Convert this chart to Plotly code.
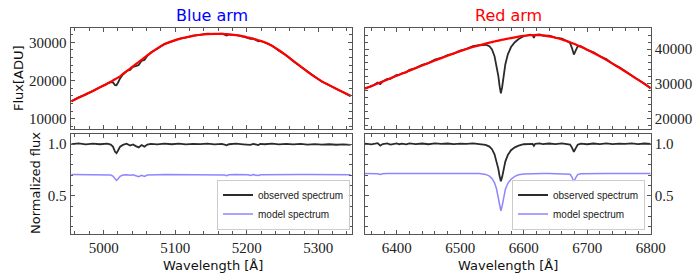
import plotly.graph_objects as go

# ---------------- Blue arm ----------------
blue_wl = [4955, 4965, 4975, 4985, 4995, 5005, 5010, 5013, 5016, 5018, 5020, 5023, 5027, 5032,
           5037, 5041, 5045, 5049, 5053, 5057, 5061, 5066, 5075, 5085, 5095, 5105, 5115, 5125,
           5135, 5145, 5155, 5165, 5169, 5172, 5175, 5185, 5195, 5202, 5205, 5209, 5213, 5216,
           5219, 5225, 5235, 5245, 5255, 5265, 5275, 5285, 5295, 5305, 5315, 5325, 5335, 5345]
blue_cont = [14580, 15480, 16380, 17280, 18215, 19165, 19690, 20010, 20330, 20550, 20760, 21090,
             21735, 22420, 23115, 23690, 24265, 24845, 25425, 26000, 26565, 27260, 28425, 29500,
             30255, 30835, 31315, 31695, 31975, 32155, 32235, 32215, 32170, 32140, 32095, 31875,
             31555, 31260, 31135, 30930, 30720, 30550, 30370, 29995, 29100, 27925, 26570, 25135,
             23685, 22270, 20940, 19780, 18785, 17835, 16920, 16020]
blue_obs = [1.000, 1.006, 0.996, 1.004, 0.998, 1.003, 0.995, 0.975, 0.925, 0.912, 0.935, 0.975,
            0.992, 1.003, 0.985, 0.996, 0.980, 0.968, 0.990, 0.975, 0.995, 1.002, 0.996, 1.004,
            0.998, 1.003, 0.997, 1.002, 0.999, 1.004, 0.997, 1.002, 0.994, 0.988, 0.998, 1.003,
            0.997, 0.998, 0.992, 1.002, 0.996, 0.990, 1.001, 0.998, 1.003, 0.996, 1.002, 0.997,
            1.001, 0.995, 1.000, 0.994, 0.998, 0.993, 0.996, 0.992]
blue_model = [0.706, 0.706, 0.706, 0.705, 0.705, 0.704, 0.700, 0.690, 0.660, 0.648, 0.662, 0.688,
              0.700, 0.703, 0.698, 0.702, 0.694, 0.685, 0.698, 0.686, 0.700, 0.703, 0.704, 0.705,
              0.705, 0.705, 0.705, 0.705, 0.705, 0.705, 0.705, 0.704, 0.700, 0.694, 0.702, 0.705,
              0.705, 0.703, 0.697, 0.704, 0.699, 0.695, 0.703, 0.704, 0.705, 0.705, 0.705, 0.705,
              0.705, 0.705, 0.704, 0.704, 0.704, 0.704, 0.704, 0.704]

# ---------------- Red arm ----------------
red_wl = [6350, 6360, 6370, 6374, 6378, 6385, 6390, 6400, 6404, 6408, 6415, 6420, 6430, 6440,
          6450, 6460, 6470, 6480, 6490, 6500, 6510, 6520, 6530, 6540, 6546, 6550, 6554, 6557,
          6560, 6562, 6564, 6566, 6568, 6571, 6575, 6580, 6586, 6592, 6600, 6610, 6614, 6616,
          6618, 6625, 6630, 6640, 6650, 6660, 6668, 6673, 6676, 6679, 6682, 6685, 6690, 6700,
          6710, 6720, 6730, 6740, 6750, 6760, 6770, 6780, 6790, 6800]
red_cont = [28600, 29340, 30080, 30380, 30670, 31190, 31560, 32300, 32600, 32890, 33410, 33780,
            34520, 35260, 36000, 36700, 37380, 38060, 38740, 39400, 40000, 40560, 41080, 41560,
            41830, 42000, 42170, 42290, 42420, 42500, 42570, 42650, 42720, 42830, 42980, 43150,
            43350, 43540, 43760, 43960, 43990, 44000, 44010, 43970, 43920, 43650, 43250, 42750,
            42270, 41940, 41730, 41520, 41290, 41050, 40650, 39800, 38870, 37900, 36860, 35780,
            34660, 33520, 32360, 31170, 29950, 28700]
red_obs = [1.004, 0.996, 1.008, 0.985, 1.000, 1.006, 0.995, 1.007, 0.998, 1.004, 0.996, 1.006,
           1.000, 1.005, 0.998, 1.006, 1.001, 1.005, 0.999, 1.004, 1.001, 1.006, 1.000, 0.992,
           0.975, 0.950, 0.900, 0.840, 0.760, 0.690, 0.640, 0.680, 0.750, 0.830, 0.895, 0.940,
           0.968, 0.985, 0.998, 1.004, 1.001, 0.982, 1.002, 1.006, 0.999, 1.005, 1.000, 1.006,
           1.001, 0.995, 0.965, 0.925, 0.960, 0.993, 1.004, 0.998, 1.005, 1.000, 1.006, 0.999,
           1.004, 1.001, 1.006, 0.999, 1.005, 1.001]
red_model = [0.714, 0.714, 0.713, 0.706, 0.712, 0.714, 0.714, 0.712, 0.707, 0.712, 0.714, 0.714,
             0.714, 0.715, 0.715, 0.715, 0.715, 0.715, 0.715, 0.715, 0.715, 0.715, 0.714, 0.706,
             0.690, 0.668, 0.625, 0.570, 0.490, 0.410, 0.355, 0.400, 0.480, 0.560, 0.620, 0.660,
             0.688, 0.702, 0.710, 0.714, 0.714, 0.713, 0.714, 0.715, 0.715, 0.715, 0.715, 0.715,
             0.714, 0.708, 0.680, 0.635, 0.675, 0.705, 0.713, 0.715, 0.715, 0.715, 0.715, 0.715,
             0.715, 0.715, 0.715, 0.715, 0.715, 0.715]

flux_ticks = [10000, 20000, 30000, 40000]
norm_ticks = [0.5, 1.0]
blue_wl_ticks = [5000, 5100, 5200, 5300]
red_wl_ticks = [6400, 6500, 6600, 6700, 6800]

blue_flux = [c * o for c, o in zip(blue_cont, blue_obs)]
red_flux = [c * o for c, o in zip(red_cont, red_obs)]

OBS = "#2b2b2b"
MODEL = "#8f86ff"
FIT = "#ff0000"
FRAME = "#555555"
SERIF = "Liberation Serif"
SANS = "DejaVu Sans"
LEG = "Liberation Sans"
TICKFONT = dict(family=SERIF, size=15, color="#222222")

W, H = 700, 280
fig = go.Figure()

fig.add_trace(go.Scatter(x=blue_wl, y=blue_flux, mode="lines", line=dict(color=OBS, width=1.8),
                         xaxis="x2", yaxis="y2", showlegend=False))
fig.add_trace(go.Scatter(x=blue_wl, y=blue_cont, mode="lines", line=dict(color=FIT, width=2.2, shape="spline"),
                         xaxis="x2", yaxis="y2", showlegend=False))
fig.add_trace(go.Scatter(x=red_wl, y=red_flux, mode="lines", line=dict(color=OBS, width=1.8),
                         xaxis="x4", yaxis="y4", showlegend=False))
fig.add_trace(go.Scatter(x=red_wl, y=red_cont, mode="lines", line=dict(color=FIT, width=2.2, shape="spline"),
                         xaxis="x4", yaxis="y4", showlegend=False))
fig.add_trace(go.Scatter(x=blue_wl, y=blue_obs, mode="lines", line=dict(color=OBS, width=1.8),
                         xaxis="x", yaxis="y", name="observed spectrum", legend="legend"))
fig.add_trace(go.Scatter(x=blue_wl, y=blue_model, mode="lines", line=dict(color=MODEL, width=1.5),
                         xaxis="x", yaxis="y", name="model spectrum", legend="legend"))
fig.add_trace(go.Scatter(x=red_wl, y=red_obs, mode="lines", line=dict(color=OBS, width=1.8),
                         xaxis="x3", yaxis="y3", name="observed spectrum", legend="legend2"))
fig.add_trace(go.Scatter(x=red_wl, y=red_model, mode="lines", line=dict(color=MODEL, width=1.5),
                         xaxis="x3", yaxis="y3", name="model spectrum", legend="legend2"))

xl = [70.7 / W, 352 / W]
xr = [365 / W, 650.7 / W]
yt = [(H - 129) / H, (H - 28.3) / H]
yb = [(H - 234) / H, (H - 134) / H]


def minor(dt, t0):
    return dict(ticks="inside", ticklen=2.5, tickwidth=0.8, tickcolor=FRAME, dtick=dt, tick0=t0, showgrid=False)


def ax(**kw):
    base = dict(showline=True, linecolor=FRAME, linewidth=1.3, mirror="allticks", ticks="inside",
                ticklen=4, tickwidth=1, tickcolor=FRAME, showgrid=False, zeroline=False,
                tickfont=TICKFONT, automargin=False)
    base.update(kw)
    return base


fig.update_layout(
    width=W, height=H, margin=dict(l=0, r=0, t=0, b=0, pad=0),
    paper_bgcolor="white", plot_bgcolor="white",
    xaxis=ax(domain=xl, anchor="y", range=[4954, 5347], tickvals=blue_wl_ticks, minor=minor(20, 4900)),
    yaxis=ax(domain=yb, anchor="x", range=[0.13, 1.097], tickvals=norm_ticks, tickformat=".1f",
             minor=minor(0.1, 0)),
    xaxis2=ax(domain=xl, anchor="y2", range=[4954, 5347], tickvals=blue_wl_ticks, showticklabels=False,
              minor=minor(20, 4900)),
    yaxis2=ax(domain=yt, anchor="x2", range=[7300, 33670], tickvals=flux_ticks, tickformat="d",
              minor=minor(2000, 0)),
    xaxis3=ax(domain=xr, anchor="y3", range=[6350, 6800], tickvals=red_wl_ticks, minor=minor(20, 6300)),
    yaxis3=ax(domain=yb, anchor="x3", side="right", range=[0.13, 1.097], tickvals=norm_ticks,
              tickformat=".1f", minor=minor(0.1, 0)),
    xaxis4=ax(domain=xr, anchor="y4", range=[6350, 6800], tickvals=red_wl_ticks, showticklabels=False,
              minor=minor(20, 6300)),
    yaxis4=ax(domain=yt, anchor="x4", side="right", range=[16980, 45960], tickvals=flux_ticks,
              tickformat="d", minor=minor(2000, 0)),
    legend=dict(x=350 / W, y=(H - 229.5) / H, xanchor="right", yanchor="bottom",
                bgcolor="rgba(255,255,255,0.85)", bordercolor="#cccccc", borderwidth=1,
                font=dict(family=LEG, size=10, color="#222222"), tracegroupgap=0, itemwidth=30),
    legend2=dict(x=645 / W, y=(H - 229.5) / H, xanchor="right", yanchor="bottom",
                 bgcolor="rgba(255,255,255,0.85)", bordercolor="#cccccc", borderwidth=1,
                 font=dict(family=LEG, size=10, color="#222222"), tracegroupgap=0, itemwidth=30),
)


def ann(text, x, y, size, color="#111111", angle=0, family=SANS):
    fig.add_annotation(text=text, x=x / W, y=1 - y / H, xref="paper", yref="paper", showarrow=False,
                       xanchor="center", yanchor="middle", textangle=angle,
                       font=dict(family=family, size=size, color=color))


ann("Blue arm", 212, 15, 16, color="#0000ff")
ann("Red arm", 508, 15, 16, color="#ff0000")
ann("Flux[ADU]", 18, 78, 13, angle=-90)
ann("Normalized flux", 35, 183, 13, angle=-90)
ann("Wavelength [Å]", 213, 265, 13)
ann("Wavelength [Å]", 508, 265, 13)

fig.write_html("out.html", config={"displayModeBar": False},
               post_script="document.body.style.margin='0px';document.body.style.overflow='hidden';")
